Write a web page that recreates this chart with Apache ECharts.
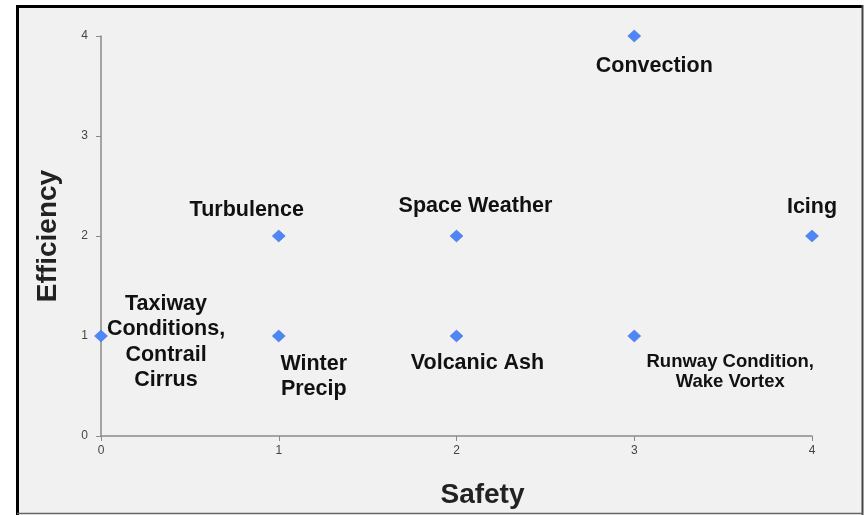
<!DOCTYPE html>
<html>
<head>
<meta charset="utf-8">
<script src="https://cdn.jsdelivr.net/npm/echarts@6/dist/echarts.min.js"></script>
<style>html,body{margin:0;padding:0;background:#fff}#c{width:866px;height:515px}</style>
</head>
<body>
<div id="c"></div>
<script>
// ---- data ----
const names = ['Convection', 'Icing', 'Turbulence', 'Space Weather', 'Taxiway\nConditions,\nContrail\nCirrus', 'Winter\nPrecip', 'Volcanic Ash', 'Runway Condition,\nWake Vortex'];
const safety = [3, 4, 1, 2, 0, 1, 2, 3];
const efficiency = [4, 2, 2, 2, 1, 1, 1, 1];
const xTicks = [0, 1, 2, 3, 4];
const yTicks = [0, 1, 2, 3, 4];

// ---- label layout (styling, separate from data) ----
const labelOffsets = [[20, 30], [0, -29], [-32, -26], [19, -30], [65, 6], [35, 41], [21, 27], [96, 36]];
const labelSizes = [21.5, 21.5, 21.5, 21.5, 21.5, 21.5, 21.5, 18.5];
const labelLineHeights = [24, 24, 24, 24, 25.5, 25, 24, 20];

const FONT = '"Liberation Sans", Arial, sans-serif';
const chart = echarts.init(document.getElementById('c'), null, {renderer: 'canvas'});

const seriesData = names.map((n, i) => ({
  name: n,
  value: [safety[i], efficiency[i]],
  label: {
    show: true,
    formatter: n,
    position: 'inside',
    offset: labelOffsets[i],
    align: 'center',
    verticalAlign: 'middle',
    fontSize: labelSizes[i],
    lineHeight: labelLineHeights[i],
    fontWeight: 'bold',
    fontFamily: FONT,
    color: '#111'
  }
}));

chart.setOption({
  backgroundColor: '#ffffff',
  animation: false,
  graphic: [
    {type: 'rect', z: -10, silent: true, shape: {x: 18, y: 7, width: 844, height: 506}, style: {fill: '#f1f1f1'}},
    {type: 'line', z: 100, silent: true, shape: {x1: 17.5, y1: 6.5, x2: 862, y2: 6.5}, style: {stroke: '#000', lineWidth: 3}},
    {type: 'line', z: 100, silent: true, shape: {x1: 17.5, y1: 5, x2: 17.5, y2: 515}, style: {stroke: '#000', lineWidth: 3}},
    {type: 'line', z: 100, silent: true, shape: {x1: 862.5, y1: 5, x2: 862.5, y2: 515}, style: {stroke: '#444', lineWidth: 2}},
    {type: 'line', z: 100, silent: true, shape: {x1: 17, y1: 513.5, x2: 863, y2: 513.5}, style: {stroke: '#666', lineWidth: 1.5}}
  ],
  grid: {left: 101, right: 54, top: 36, bottom: 79, containLabel: false},
  xAxis: {
    type: 'value', min: xTicks[0], max: xTicks[xTicks.length - 1], interval: 1,
    name: 'Safety', nameLocation: 'middle', nameGap: 45,
    nameTextStyle: {fontSize: 28, fontWeight: 'bold', fontFamily: FONT, color: '#222', padding: [0, 0, 0, 52]},
    axisLine: {show: true, lineStyle: {color: '#8a8a8a', width: 1.5}},
    axisTick: {show: true, length: 5, lineStyle: {color: '#8a8a8a'}},
    axisLabel: {fontSize: 12, color: '#444', fontFamily: FONT, margin: 9},
    splitLine: {show: false}
  },
  yAxis: {
    type: 'value', min: yTicks[0], max: yTicks[yTicks.length - 1], interval: 1,
    name: 'Efficiency', nameLocation: 'middle', nameGap: 39,
    nameTextStyle: {fontSize: 28, fontWeight: 'bold', fontFamily: FONT, color: '#222'},
    axisLine: {show: true, lineStyle: {color: '#8a8a8a', width: 1.5}},
    axisTick: {show: true, length: 5, lineStyle: {color: '#8a8a8a'}},
    axisLabel: {fontSize: 12, color: '#444', fontFamily: FONT, margin: 13},
    splitLine: {show: false}
  },
  series: [{
    type: 'scatter',
    symbol: 'diamond',
    symbolSize: [13, 12],
    itemStyle: {color: '#4f86f7', borderColor: '#3a6fd8', borderWidth: 0.5, opacity: 1},
    data: seriesData,
    z: 5
  }]
});
</script>
</body>
</html>
